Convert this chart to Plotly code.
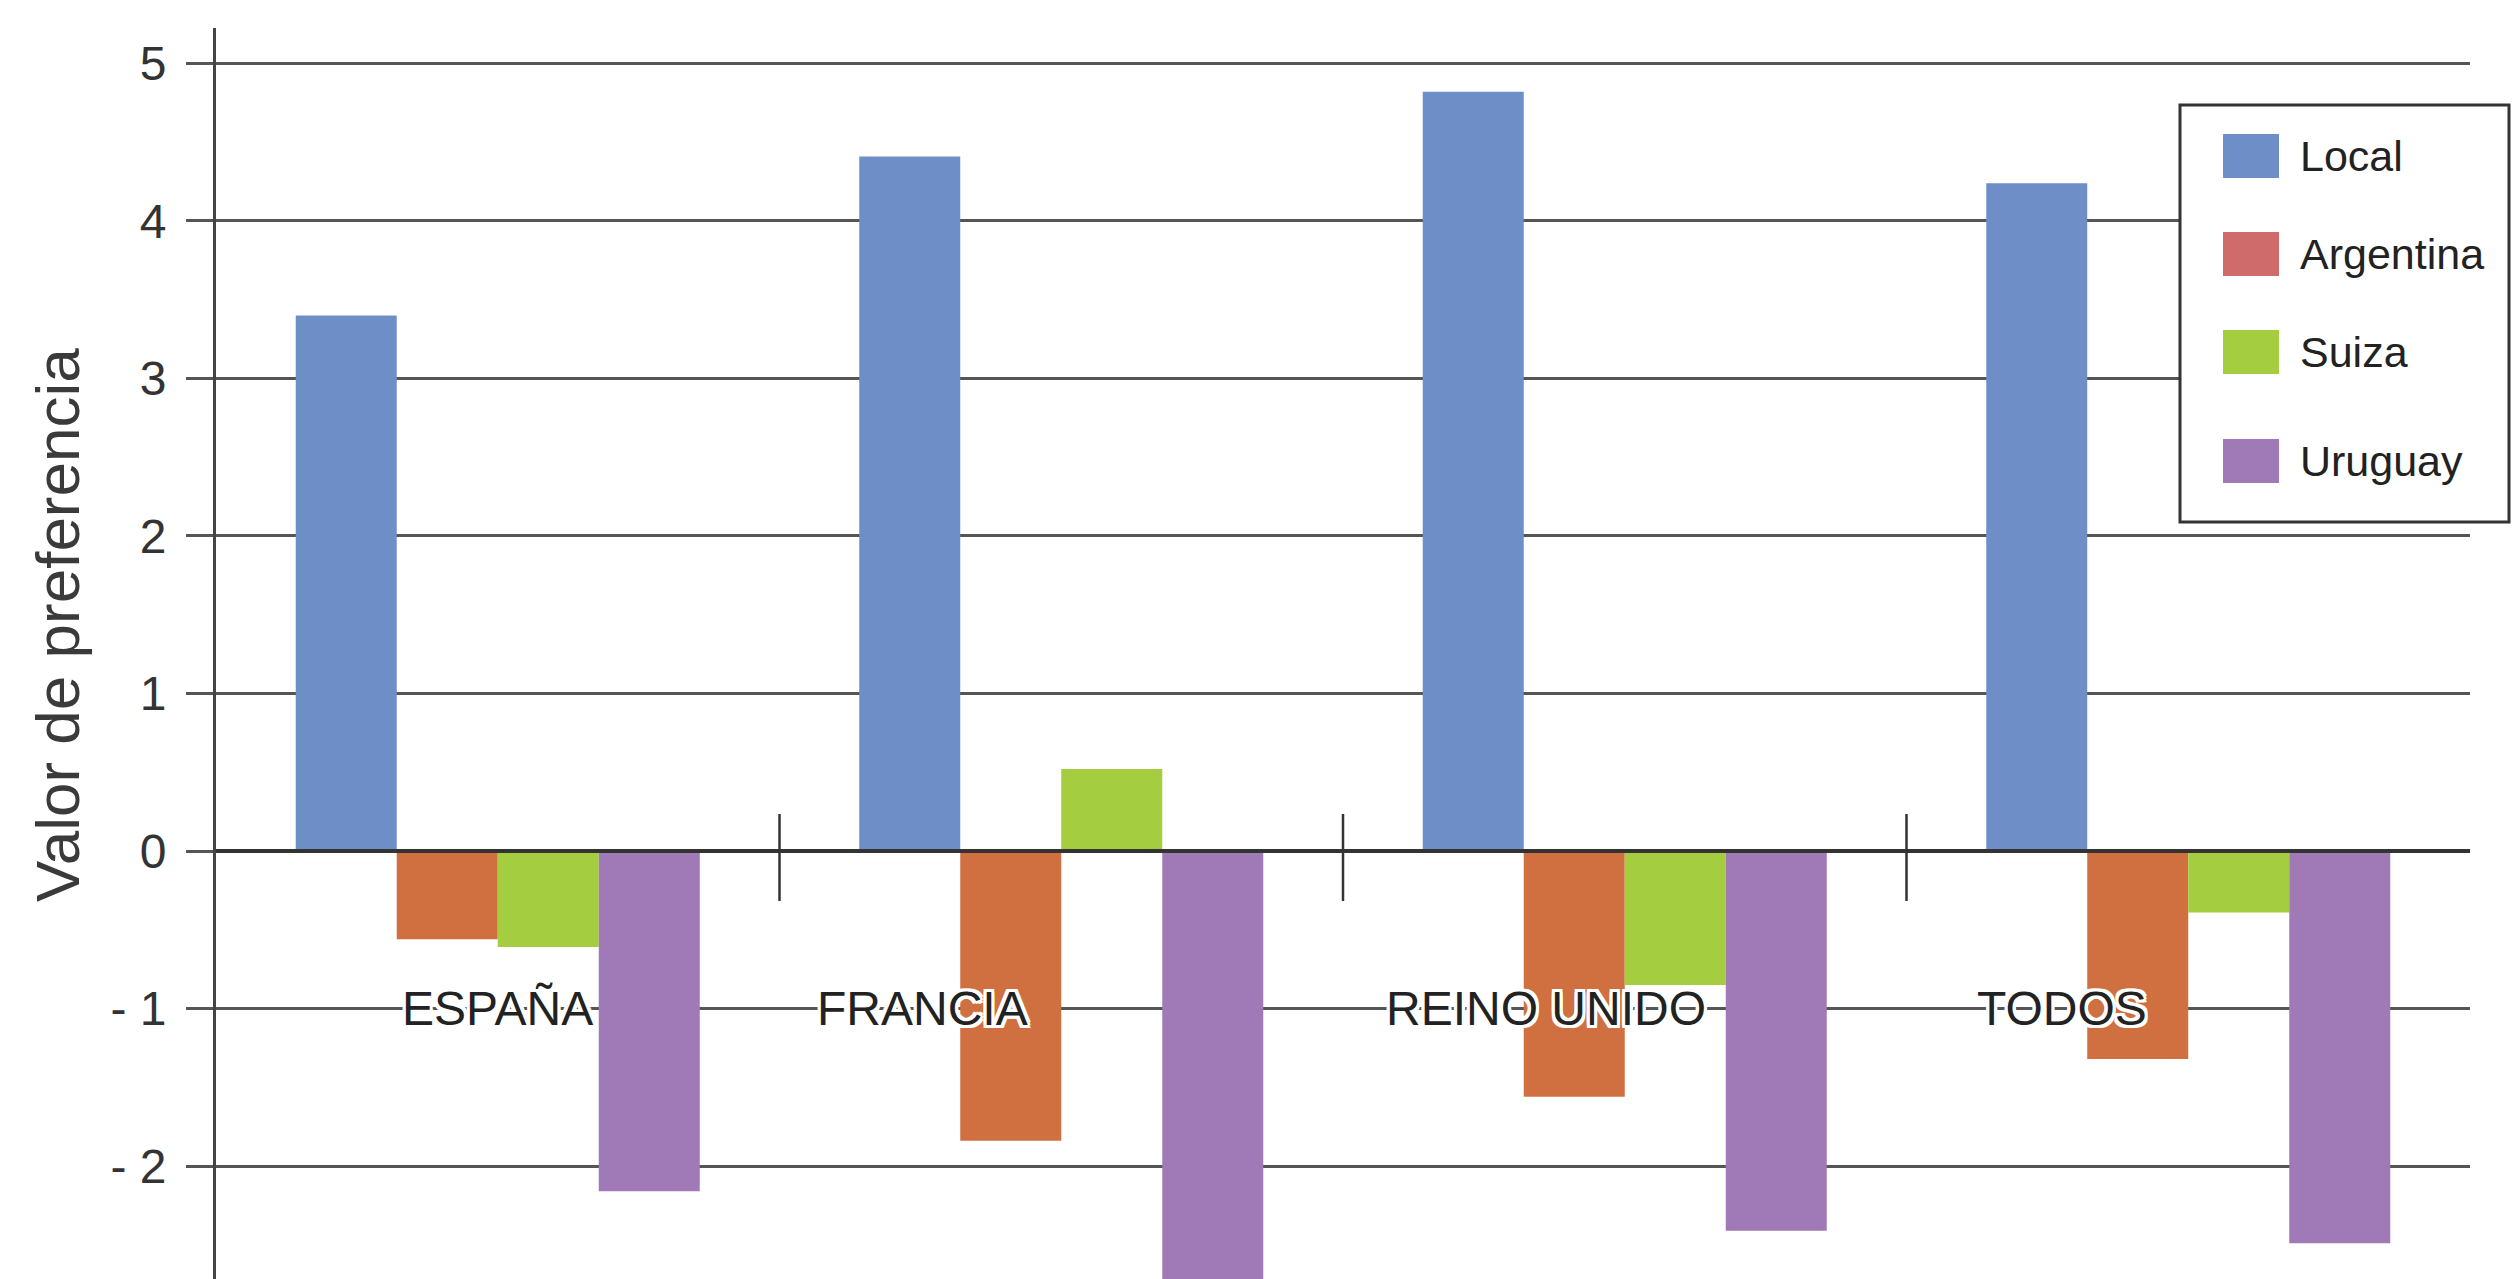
import plotly.graph_objects as go

# ---------------- data ----------------
CATEGORIES = ["ESPAÑA", "FRANCIA", "REINO UNIDO", "TODOS"]
SERIES = ["Local", "Argentina", "Suiza", "Uruguay"]
LOCAL = [3.40, 4.41, 4.82, 4.24]
ARGENTINA = [-0.56, -1.84, -1.56, -1.32]
SUIZA = [-0.61, 0.52, -0.85, -0.39]
URUGUAY = [-2.16, -2.95, -2.41, -2.49]
VALUES = [LOCAL, ARGENTINA, SUIZA, URUGUAY]
Y_TICKS = [-2, -1, 0, 1, 2, 3, 4, 5]
Y_TICK_TEXT = ["- 2", "- 1", "0", "1", "2", "3", "4", "5"]
Y_TITLE = "Valor de preferencia"

# ---------------- style ----------------
BAR_COLORS = ["#6E8EC8", "#D07040", "#A4CD40", "#A07AB7"]
LEGEND_COLORS = ["#6E8EC8", "#CF6B6B", "#A4CD40", "#A07AB7"]
LABEL_X_SHIFT = [0.0, -0.247, -0.14, -0.224]   # label offset from category centre
GRID = "#555555"
DARK = "#333333"

W, H = 2512, 1279
L, R, T, B = 216, 2470, 28, 1279
PW, PH = R - L, B - T
Y_RANGE = [-2.717, 5.225]


def px_x(px):
    return (px - L) / PW


def px_y(py):
    return (B - py) / PH


fig = go.Figure()
idx = list(range(len(CATEGORIES)))
for name, vals, col in zip(SERIES, VALUES, BAR_COLORS):
    fig.add_trace(go.Bar(x=idx, y=vals, name=name, marker=dict(color=col, line=dict(width=0)),
                         showlegend=False))

shapes = []
# zero line over the bars
shapes.append(dict(type="line", xref="paper", yref="y", x0=0, x1=1, y0=0, y1=0,
                   line=dict(color=DARK, width=4), layer="above"))
# separators between categories
for i in range(len(CATEGORIES) - 1):
    shapes.append(dict(type="line", xref="x", yref="y", x0=i + 0.5, x1=i + 0.5,
                       y0=0.235, y1=-0.317, line=dict(color=DARK, width=2.5)))

# legend box
shapes.append(dict(type="rect", xref="paper", yref="paper",
                   x0=px_x(2180), x1=px_x(2509), y0=px_y(105), y1=px_y(522),
                   fillcolor="white", line=dict(color=DARK, width=3), layer="above"))
annotations = []
LEG_Y = [156, 254, 352, 461]
for name, col, ly in zip(SERIES, LEGEND_COLORS, LEG_Y):
    shapes.append(dict(type="rect", xref="paper", yref="paper",
                       x0=px_x(2223), x1=px_x(2279), y0=px_y(ly + 22), y1=px_y(ly - 22),
                       fillcolor=col, line=dict(width=0), layer="above"))
    annotations.append(dict(xref="paper", yref="paper", x=px_x(2298), y=px_y(ly),
                            xanchor="left", yanchor="middle", showarrow=False, text=name,
                            font=dict(family="Liberation Sans, Arial", size=43, color="#222222")))

# category labels
HALO = ("-3px -3px 0 #fff, 3px -3px 0 #fff, -3px 3px 0 #fff, 3px 3px 0 #fff, "
        "0 -3px 0 #fff, 0 3px 0 #fff, -3px 0 0 #fff, 3px 0 0 #fff")
for i, (cat, dx) in enumerate(zip(CATEGORIES, LABEL_X_SHIFT)):
    annotations.append(dict(xref="x", yref="y", x=i + dx, y=-1.0, xanchor="center",
                            yanchor="middle", showarrow=False, text=cat,
                            font=dict(family="Liberation Sans, Arial", size=48,
                                      color="#222222", shadow=HALO)))

# y-axis title
annotations.append(dict(xref="paper", yref="paper", x=px_x(57), y=px_y(625), xanchor="center",
                        yanchor="middle", showarrow=False, text=Y_TITLE, textangle=-90,
                        font=dict(family="Liberation Sans, Arial", size=62, color="#3a3a3a")))

fig.update_layout(
    width=W, height=H,
    margin=dict(l=L, r=W - R, t=T, b=H - B, pad=0),
    paper_bgcolor="white", plot_bgcolor="white",
    barmode="group", bargap=0.283, bargroupgap=0,
    showlegend=False,
    shapes=shapes, annotations=annotations,
    font=dict(family="Liberation Sans, Arial", color="#333333"),
)
fig.update_xaxes(range=[-0.5, len(CATEGORIES) - 0.5], showticklabels=False, showgrid=False,
                 zeroline=False, showline=False, ticks="")
fig.update_yaxes(range=Y_RANGE, tickmode="array", tickvals=Y_TICKS, ticktext=Y_TICK_TEXT,
                 showgrid=True, gridcolor=GRID, gridwidth=2.5, zeroline=False,
                 showline=True, linecolor="#444444", linewidth=3,
                 ticks="outside", ticklen=27, tickwidth=2.5, tickcolor=GRID,
                 ticklabelstandoff=10,
                 tickfont=dict(family="Liberation Sans, Arial", size=48, color="#333333"))

fig.write_html("out.html")
